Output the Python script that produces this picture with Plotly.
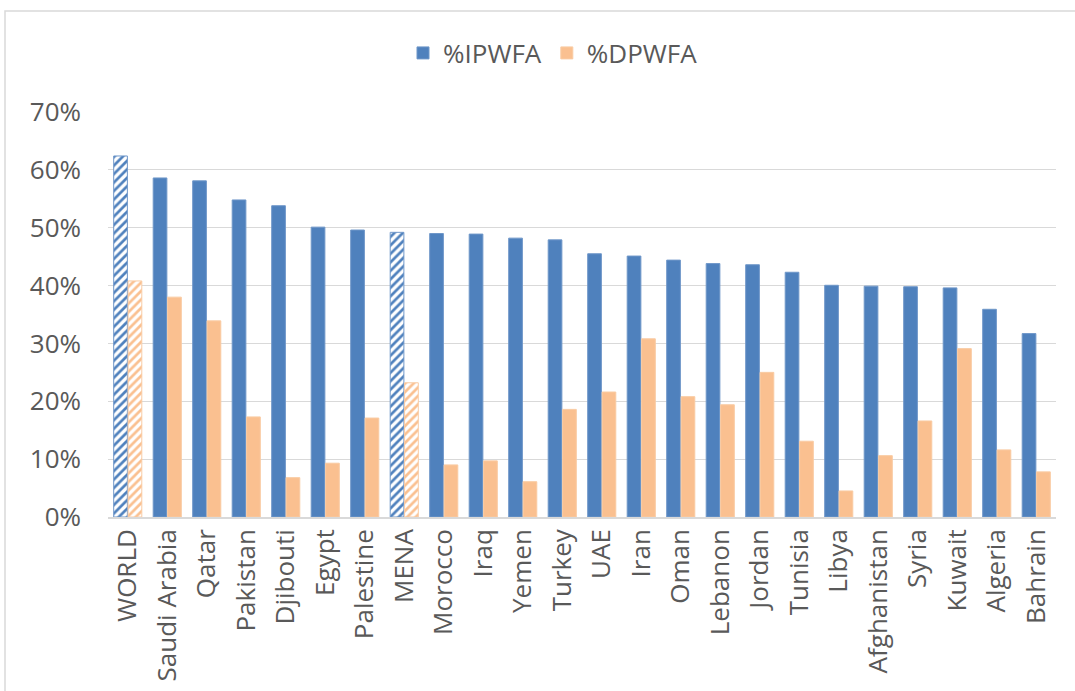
import plotly.graph_objects as go

categories = ["WORLD", "Saudi Arabia", "Qatar", "Pakistan", "Djibouti", "Egypt", "Palestine",
              "MENA", "Morocco", "Iraq", "Yemen", "Turkey", "UAE", "Iran", "Oman", "Lebanon",
              "Jordan", "Tunisia", "Libya", "Afghanistan", "Syria", "Kuwait", "Algeria", "Bahrain"]

ipwfa = [62.4, 58.6, 58.1, 54.8, 53.8, 50.1, 49.6, 49.2, 49.0, 48.9, 48.2, 47.9, 45.5, 45.1,
         44.4, 43.8, 43.6, 42.3, 40.05, 39.9, 39.8, 39.6, 35.9, 31.7]
dpwfa = [40.8, 38.0, 33.9, 17.3, 6.8, 9.3, 17.1, 23.2, 9.0, 9.7, 6.1, 18.6, 21.6, 30.8,
         20.8, 19.4, 25.0, 13.1, 4.5, 10.6, 16.6, 29.1, 11.6, 7.8]

aggregates = ["WORLD", "MENA"]

BLUE = "#4F81BD"
ORANGE = "#FAC090"
TEXT = "#595959"
GRID = "#D9D9D9"
FS = 26

shapes_pattern = ["/" if c in aggregates else "" for c in categories]

fig = go.Figure()
for name, vals, col, lcol, grp in [("%IPWFA", ipwfa, BLUE, "#6F97C9", "a"),
                                   ("%DPWFA", dpwfa, ORANGE, "#F9CBA3", "b")]:
    fig.add_trace(go.Bar(
        name=name, x=categories, y=[v / 100 for v in vals],
        offsetgroup=grp, legendgroup=grp, showlegend=False,
        marker=dict(color=col, line=dict(color=lcol, width=1),
                    pattern=dict(shape=shapes_pattern, fillmode="replace", bgcolor="white",
                                 size=6, solidity=0.45)),
    ))
    # legend entry with a solid swatch
    fig.add_trace(go.Bar(
        name=name, x=[categories[0]], y=[None], offsetgroup=grp, legendgroup=grp,
        showlegend=True, marker=dict(color=col, line=dict(color=lcol, width=1)),
        hoverinfo="skip",
    ))

L, R, T, B = 108, 19, 112, 174
W, H = 1075, 691
pw = W - L - R
ph = H - T - B

fig.update_layout(
    width=W, height=H,
    margin=dict(l=L, r=R, t=T, b=B),
    paper_bgcolor="white", plot_bgcolor="white",
    barmode="group", bargap=0.27, bargroupgap=0.05,
    font=dict(family="Open Sans", size=FS, color=TEXT),
    legend=dict(orientation="h", x=(553 - L) / pw, xanchor="center", y=(H - B - 53) / ph,
                yanchor="middle", font=dict(size=FS, color=TEXT), itemwidth=30, tracegroupgap=0),
    showlegend=True,
    shapes=[dict(type="rect", xref="paper", yref="paper",
                 x0=(5 - L) / pw, x1=(W + 10 - L) / pw,
                 y0=(H - B - (H + 10)) / ph, y1=(H - B - 11) / ph,
                 line=dict(color=GRID, width=1.5), fillcolor="rgba(0,0,0,0)", layer="below")],
)
fig.update_xaxes(tickangle=-90, showline=True, linecolor=GRID, linewidth=1.5, ticks="",
                 tickfont=dict(size=FS, color=TEXT), showgrid=False, automargin=False)
fig.update_yaxes(range=[0, 0.7], dtick=0.1, tickformat=".0%", showgrid=True, gridcolor=GRID,
                 gridwidth=1.2, zeroline=False, showline=False, ticks="",
                 ticklabelstandoff=26, tickfont=dict(size=FS, color=TEXT), automargin=False)

fig.write_html("out.html", config={"displayModeBar": False},
               post_script="document.body.style.margin='0px';document.body.style.overflow='hidden';")
